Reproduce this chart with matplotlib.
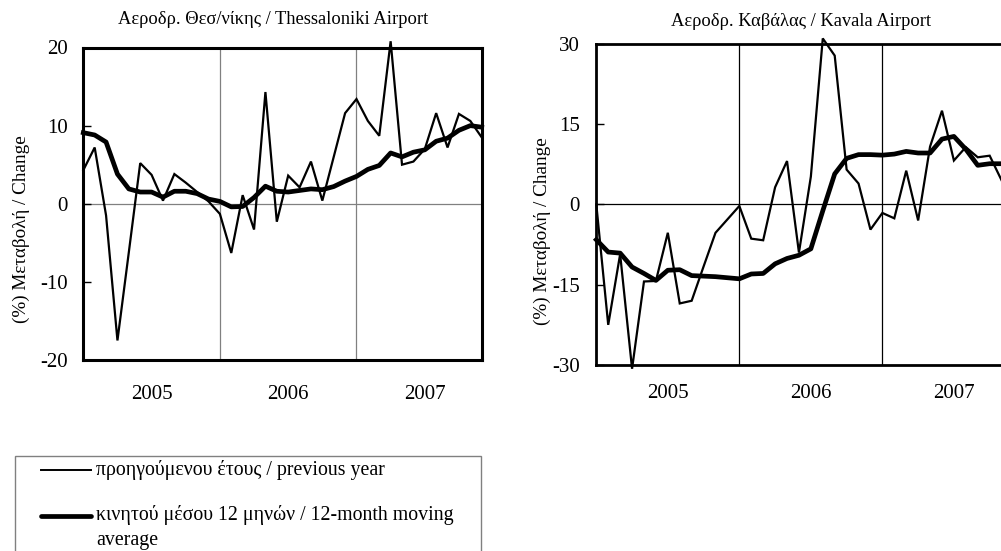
import matplotlib
matplotlib.use("Agg")
import matplotlib.pyplot as plt
from matplotlib.lines import Line2D
from matplotlib.patches import Rectangle
import numpy as np

plt.rcParams['font.family'] = ['Liberation Serif', 'DejaVu Serif']

# ---------------- data ----------------
years = ["2005", "2006", "2007"]
months_per_year = 12

thess_title = "Αεροδρ. Θεσ/νίκης / Thessaloniki Airport"
kav_title = "Αεροδρ. Καβάλας / Kavala Airport"
ylabel = "(%) Μεταβολή / Change"
legend_labels = ["προηγούμενου έτους / previous year",
                 "κινητού μέσου 12 μηνών / 12-month moving\naverage"]

# monthly % change vs previous year (Jan 2005 ...)
thess_prev = [4.3, 7.2, -1.5, -17.5, -6.2, 5.2, 3.7, 0.4, 3.8, 2.7, 1.5, 0.3,
              -1.3, -6.3, 1.1, -3.3, 14.3, -2.3, 3.6, 2.1, 5.4, 0.4, 6.0, 11.6,
              13.4, 10.6, 8.7, 20.8, 5.0, 5.4, 7.0, 11.6, 7.2, 11.5, 10.6, 8.5]
thess_ma = [9.1, 8.8, 7.9, 3.8, 1.9, 1.5, 1.5, 0.85, 1.6, 1.6, 1.3, 0.6,
            0.3, -0.4, -0.35, 0.8, 2.25, 1.6, 1.5, 1.7, 1.9, 1.8, 2.2, 2.9,
            3.5, 4.4, 4.9, 6.5, 6.0, 6.6, 6.9, 8.0, 8.4, 9.4, 10.0, 9.8]

kav_prev = [0.0, -22.5, -9.3, -30.7, -14.4, -14.3, -5.3, -18.5, -18.0, -11.6, -5.3, -2.8,
            -0.3, -6.4, -6.7, 3.2, 8.1, -9.0, 5.2, 31.0, 27.8, 6.5, 3.9, -4.7,
            -1.6, -2.6, 6.3, -3.0, 10.8, 17.5, 8.2, 10.7, 8.8, 9.1, 4.5]
kav_ma = [-6.6, -8.9, -9.1, -11.7, -12.9, -14.2, -12.3, -12.2, -13.3, -13.4, -13.5, -13.7,
          -13.9, -13.0, -12.9, -11.1, -10.1, -9.5, -8.3, -1.2, 5.7, 8.6, 9.3, 9.3,
          9.2, 9.4, 9.9, 9.6, 9.6, 12.2, 12.7, 10.3, 7.3, 7.6, 7.6]

thess_yticks = [-20, -10, 0, 10, 20]
kav_yticks = [-30, -15, 0, 15, 30]

# ---------------- figure ----------------
W, H = 1001, 551
fig = plt.figure(figsize=(W / 100, H / 100), dpi=100)


def fx(px):
    return px / W


def fy(py):
    return 1 - py / H


n_total = len(years) * months_per_year


def setup(ax, yticks, grid_color, spine_lw, tick_pad, year_pad):
    ax.set_xlim(0, n_total - 1)
    ax.set_ylim(yticks[0], yticks[-1])
    ax.set_yticks(yticks)
    ax.set_yticklabels([str(t) for t in yticks])
    ax.tick_params(axis='y', direction='in', length=6, width=1, pad=tick_pad,
                   labelsize=15)
    ax.set_xticks([months_per_year * i + months_per_year / 2 for i in range(len(years))])
    ax.set_xticklabels(years)
    ax.tick_params(axis='x', length=0, pad=year_pad, labelsize=15)
    for x in range(months_per_year, n_total, months_per_year):
        ax.axvline(x, color=grid_color, lw=0.9, zorder=1)
    ax.axhline(0, color=grid_color, lw=0.9, zorder=1)
    for s in ax.spines.values():
        s.set_linewidth(spine_lw)
        s.set_color('black')
        s.set_zorder(4)


# left axes
axL = fig.add_axes([fx(83.3), fy(360), fx(481.7 - 83.3), (360 - 47.5) / H])
setup(axL, thess_yticks, '#808080', 2.2, 11, 18)
xL = np.arange(len(thess_prev))
axL.plot(xL, thess_prev, color='black', lw=1.6, clip_on=False, zorder=3,
         solid_joinstyle='miter')
axL.plot(np.arange(len(thess_ma)), thess_ma, color='black', lw=3.4, clip_on=False,
         zorder=3, solid_joinstyle='round')

# right axes (extends past figure edge)
right_w = 35 * 11.92
axR = fig.add_axes([fx(596.3), fy(365), fx(right_w), (365 - 43.8) / H])
setup(axR, kav_yticks, 'black', 2.0, 12, 14)
axR.plot(np.arange(len(kav_prev)), kav_prev, color='black', lw=1.6, clip_on=False,
         zorder=3, solid_joinstyle='miter')
axR.plot(np.arange(len(kav_ma)), kav_ma, color='black', lw=3.4, clip_on=False,
         zorder=3, solid_joinstyle='round')

# titles
fig.text(fx(273), fy(20), thess_title, ha='center', va='center', fontsize=13.3)
fig.text(fx(800.7), fy(22), kav_title, ha='center', va='center', fontsize=13.3)

# y labels
fig.text(fx(21), fy(229), ylabel, ha='center', va='center', rotation=90, fontsize=13.8)
fig.text(fx(542), fy(231), ylabel, ha='center', va='center', rotation=90, fontsize=13.8)

# legend (manual)
fig.patches.append(Rectangle((fx(15), fy(600)), fx(481 - 15), (600 - 456) / H,
                             transform=fig.transFigure, fill=False,
                             edgecolor='#808080', lw=1.0, clip_on=False))
fig.lines.append(Line2D([fx(41), fx(91)], [fy(470), fy(470)], transform=fig.transFigure,
                        color='black', lw=1.4))
fig.lines.append(Line2D([fx(41), fx(91)], [fy(516), fy(516)], transform=fig.transFigure,
                        color='black', lw=3.4, solid_capstyle='round'))
fig.text(fx(96), fy(470), legend_labels[0], ha='left', va='center', fontsize=14.3)
for k, line in enumerate(legend_labels[1].split("\n")):
    fig.text(fx(96), fy(515 + 25 * k), line, ha='left', va='center', fontsize=14.3)

fig.savefig("out.png", dpi=100)
